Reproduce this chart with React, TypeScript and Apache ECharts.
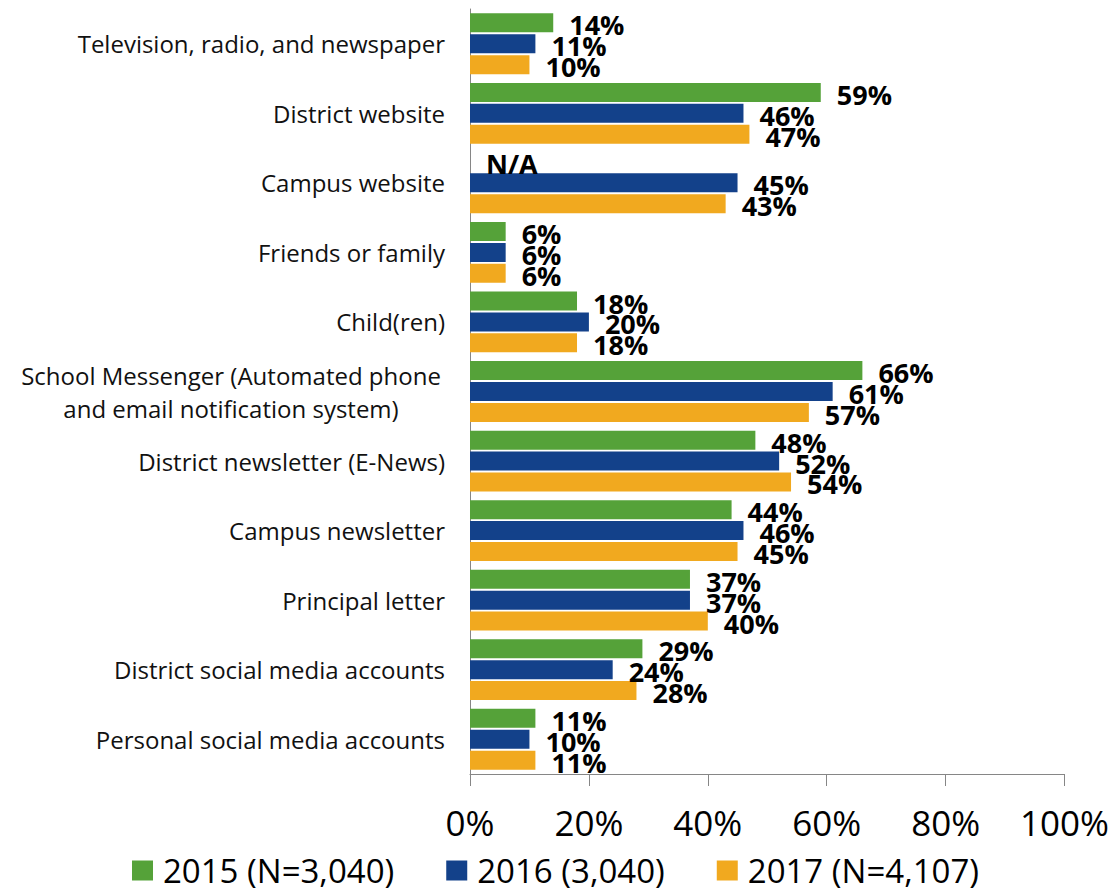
import React, { useEffect, useRef } from "react";
import * as echarts from "echarts";

const categories = [
  "Television, radio, and newspaper",
  "District website",
  "Campus website",
  "Friends or family",
  "Child(ren)",
  "School Messenger (Automated phone\nand email notification system)",
  "District newsletter (E-News)",
  "Campus newsletter",
  "Principal letter",
  "District social media accounts",
  "Personal social media accounts",
];

const seriesNames = ["2015 (N=3,040)", "2016 (3,040)", "2017 (N=4,107)"];
const values2015: (number | null)[] = [14, 59, null, 6, 18, 66, 48, 44, 37, 29, 11];
const values2016: (number | null)[] = [11, 46, 45, 6, 20, 61, 52, 46, 37, 24, 10];
const values2017: (number | null)[] = [10, 47, 43, 6, 18, 57, 54, 45, 40, 28, 11];
const colors = ["#55A239", "#13418A", "#F1A91F"];
const xTicks = [0, 20, 40, 60, 80, 100];

const FONT = "'Open Sans', sans-serif";

export default function App() {
  const ref = useRef<HTMLDivElement>(null);
  useEffect(() => {
    document.body.style.margin = "0";
    if (!ref.current) return;
    const chart = echarts.init(ref.current, undefined, { renderer: "svg" });
    const all = [values2015, values2016, values2017];
    const series = all.map((vals, i) => ({
      name: seriesNames[i],
      type: "bar",
      barWidth: 19,
      barGap: "10%",
      itemStyle: { color: colors[i] },
      label: {
        show: true,
        position: "right",
        distance: 16,
        offset: [0, 2],
        fontSize: 27,
        fontWeight: "bold",
        fontFamily: FONT,
        color: "#000",
        formatter: "{c}%",
      },
      data: vals.map((v) =>
        v === null ? { value: 0, label: { formatter: "N/A" } } : v
      ),
    }));
    chart.setOption({
      animation: false,
      grid: { left: 470, right: 43, top: 9, bottom: 116, containLabel: false },
      legend: {
        data: seriesNames,
        left: 132,
        top: 854,
        padding: 0,
        icon: "rect",
        itemWidth: 21,
        itemHeight: 20,
        itemGap: 52,
        textStyle: {
          fontSize: 33,
          fontFamily: FONT,
          color: "#000",
          padding: [0, 0, 0, 5],
        },
      },
      xAxis: {
        type: "value",
        min: xTicks[0],
        max: xTicks[xTicks.length - 1],
        interval: 20,
        splitLine: { show: false },
        axisLine: { show: true, lineStyle: { color: "#868686" } },
        axisTick: { show: true, length: 12, lineStyle: { color: "#868686" } },
        axisLabel: {
          formatter: "{value}%",
          fontSize: 35,
          fontFamily: FONT,
          color: "#000",
          margin: 31,
        },
      },
      yAxis: {
        type: "category",
        inverse: true,
        data: categories,
        axisLine: { show: true, lineStyle: { color: "#868686" } },
        axisTick: { show: false },
        axisLabel: {
          fontSize: 24,
          fontFamily: FONT,
          color: "#111",
          margin: 25,
          lineHeight: 33,
          formatter: (v: string) =>
            v.includes("\n")
              ? v
                  .split("\n")
                  .map((l) => "{c|" + l + "}")
                  .join("\n")
              : v,
          rich: {
            c: {
              width: 428,
              align: "center",
              fontSize: 24,
              fontFamily: FONT,
              color: "#111",
              lineHeight: 33,
            },
          },
        },
      },
      series,
    });
    return () => chart.dispose();
  }, []);
  return <div ref={ref} style={{ width: 1112, height: 890 }} />;
}
